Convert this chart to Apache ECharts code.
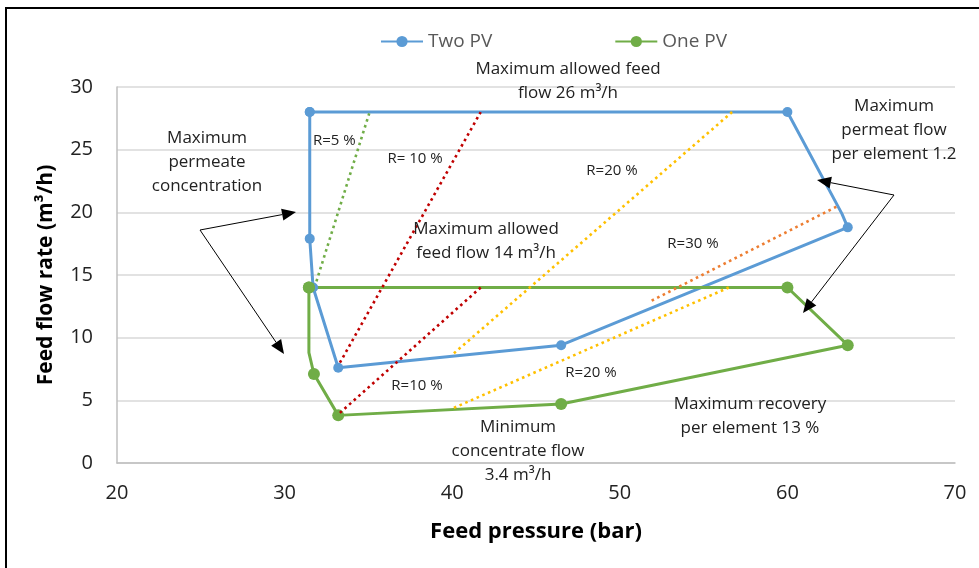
<!DOCTYPE html>
<html>
<head>
<meta charset="utf-8">
<script src="https://cdn.jsdelivr.net/npm/echarts@6/dist/echarts.min.js"></script>
<style>
html,body{margin:0;padding:0;background:#fff;}
#c{width:979px;height:568px;}
</style>
</head>
<body>
<div id="c"></div>
<script>
// ---- data ----
var xTicks = [20, 30, 40, 50, 60, 70];
var yTicks = [0, 5, 10, 15, 20, 25, 30];
var seriesNames = ['Two PV', 'One PV'];
// Two PV operating window (pressure bar, flow m3/h); 'none' = bend without marker
var twoPV = [[31.5, 28.0], [60.0, 28.0], [63.25, 19.9, 'none'], [63.6, 18.8], [46.5, 9.4], [33.2, 7.6], [31.7, 14.0], [31.5, 17.9], [31.5, 28.0]];
var onePV = [[31.45, 14.0], [60.0, 14.0], [63.6, 9.4], [46.5, 4.7], [33.2, 3.8], [31.75, 7.1], [31.45, 8.8, 'none'], [31.45, 14.0]];
// recovery lines
var r5 = [[31.9, 14.5], [35.05, 27.9]];
var r10a = [[33.3, 8.0], [41.7, 28.0]];
var r10b = [[33.3, 4.0], [41.7, 14.0]];
var r20a = [[40.1, 8.75], [56.7, 28.0]];
var r20b = [[40.1, 4.4], [56.5, 14.0]];
var r30 = [[51.9, 12.95], [63.0, 20.5]];
var labels = {
  feed26: ['Maximum allowed feed', 'flow 26 m³/h'],
  feed14: ['Maximum allowed', 'feed flow 14 m³/h'],
  perm: ['Maximum', 'permeate', 'concentration'],
  permFlow: ['Maximum', 'permeat flow', 'per element 1.2'],
  recov: ['Maximum recovery', 'per element 13 %'],
  conc: ['Minimum', 'concentrate flow', '3.4 m³/h'],
  r5: 'R=5 %', r10a: 'R= 10 %', r10b: 'R=10 %', r20a: 'R=20 %', r20b: 'R=20 %', r30: 'R=30 %'
};
var xTitle = 'Feed pressure (bar)';
var yTitle = 'Feed flow rate (m³/h)';

var BLUE = '#5B9BD5', GREEN = '#70AD47';
var FONT = 'Open Sans';

function toData(arr) {
  return arr.map(function (p) {
    var d = { value: [p[0], p[1]] };
    if (p[2] === 'none') d.symbol = 'none';
    return d;
  });
}
function dotted(name, data, color) {
  return {
    name: name, type: 'line', data: data, symbol: 'none', silent: true,
    lineStyle: { color: color, width: 2.6, type: [2.6, 3.6], cap: 'butt' },
    z: 4, animation: false
  };
}
function txt(lines, x, y, align, size) {
  return {
    type: 'text', x: x, y: y, z: 100,
    style: {
      text: Array.isArray(lines) ? lines.join('\n') : lines,
      font: (size || 17) + 'px "' + FONT + '"', fill: '#222',
      align: align || 'center', verticalAlign: 'middle', lineHeight: 24
    }
  };
}
function arrow(x0, y0, x1, y1) {
  var ang = Math.atan2(y1 - y0, x1 - x0), L = 14, W = 6;
  var bx = x1 - L * Math.cos(ang), by = y1 - L * Math.sin(ang);
  var px = -Math.sin(ang) * W, py = Math.cos(ang) * W;
  return [
    { type: 'line', z: 100, shape: { x1: x0, y1: y0, x2: bx, y2: by }, style: { stroke: '#000', lineWidth: 1 } },
    { type: 'polygon', z: 100, shape: { points: [[x1, y1], [bx + px, by + py], [bx - px, by - py]] }, style: { fill: '#000' } }
  ];
}

var chart = echarts.init(document.getElementById('c'), null, { renderer: 'canvas' });
var graphics = [
  { type: 'rect', z: 100, shape: { x: 6, y: 8, width: 1100, height: 700 }, style: { fill: 'none', stroke: '#000', lineWidth: 2 } },
  txt(labels.feed26, 568, 81),
  txt(labels.feed14, 486, 241),
  txt(labels.perm, 207, 162),
  txt(labels.permFlow, 894, 130),
  txt(labels.recov, 750, 416),
  txt(labels.conc, 518, 451),
  txt(labels.r5, 313, 141, 'left', 15),
  txt(labels.r10a, 415, 159, 'center', 15),
  txt(labels.r20a, 612, 171, 'center', 15),
  txt(labels.r30, 693, 244, 'center', 15),
  txt(labels.r10b, 417, 386, 'center', 15),
  txt(labels.r20b, 591, 373, 'center', 15)
].concat(arrow(200, 230, 296, 212), arrow(200, 230, 284, 354), arrow(894, 195, 817, 180), arrow(894, 195, 803, 313));

chart.setOption({
  animation: false,
  backgroundColor: '#fff',
  textStyle: { fontFamily: FONT },
  grid: { left: 117, right: 24, top: 87, bottom: 105, containLabel: false },
  legend: {
    data: seriesNames, left: 375, top: 27, itemWidth: 42, itemHeight: 14, itemGap: 122,
    textStyle: { fontSize: 19, color: '#595959', fontFamily: FONT }
  },
  xAxis: {
    type: 'value', min: xTicks[0], max: xTicks[xTicks.length - 1], interval: 10,
    name: xTitle, nameLocation: 'middle', nameGap: 58,
    nameTextStyle: { fontSize: 22, fontWeight: 'bold', color: '#000', fontFamily: FONT },
    axisLine: { show: true, lineStyle: { color: '#BFBFBF', width: 1.5 } },
    axisTick: { show: false },
    splitLine: { show: false },
    axisLabel: { fontSize: 20, color: '#222', margin: 20, fontFamily: FONT }
  },
  yAxis: {
    type: 'value', min: yTicks[0], max: yTicks[yTicks.length - 1], interval: 5,
    name: yTitle, nameLocation: 'middle', nameGap: 60, nameRotate: 90,
    nameTextStyle: { fontSize: 21, fontWeight: 'bold', color: '#000', fontFamily: FONT },
    axisLine: { show: true, lineStyle: { color: '#BFBFBF', width: 1.5 } },
    axisTick: { show: false },
    splitLine: { show: true, lineStyle: { color: '#D9D9D9', width: 1.5 } },
    axisLabel: { fontSize: 20, color: '#222', margin: 24, fontFamily: FONT }
  },
  series: [
    {
      name: seriesNames[0], type: 'line', data: toData(twoPV), symbol: 'circle', symbolSize: 10,
      itemStyle: { color: BLUE }, lineStyle: { color: BLUE, width: 3 }, z: 3
    },
    {
      name: seriesNames[1], type: 'line', data: toData(onePV), symbol: 'circle', symbolSize: 12,
      itemStyle: { color: GREEN }, lineStyle: { color: GREEN, width: 3 }, z: 3
    },
    dotted('r5', r5, '#70AD47'),
    dotted('r10a', r10a, '#C00000'),
    dotted('r10b', r10b, '#C00000'),
    dotted('r20a', r20a, '#FFC000'),
    dotted('r20b', r20b, '#FFC000'),
    dotted('r30', r30, '#ED7D31')
  ],
  graphic: graphics
});
</script>
</body>
</html>
